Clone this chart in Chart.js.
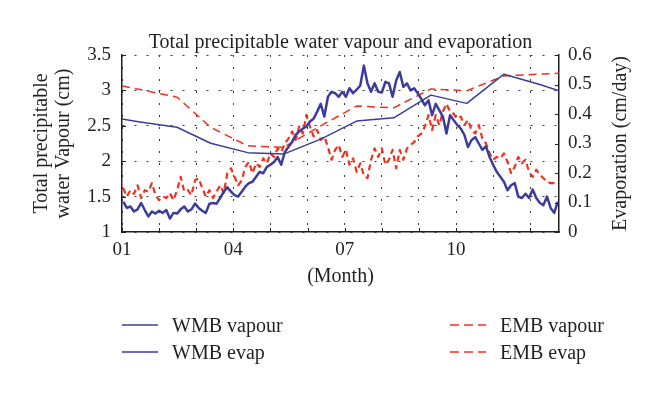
<!DOCTYPE html>
<html>
<head>
<meta charset="utf-8">
<script src="https://cdn.jsdelivr.net/npm/chart.js@4.4.1/dist/chart.umd.min.js"></script>
<style>
  body { margin: 0; background: #fff; }
  #wrap { position: relative; width: 660px; height: 395px; }
  #legend {
    position: absolute; left: 122px; top: 314px;
    display: grid; grid-template-columns: 328px 170px; row-gap: 5px;
    font: 20px "Liberation Serif", "DejaVu Serif", serif; color: #231f20;
  }
  .item { display: flex; align-items: center; height: 22px; white-space: nowrap; }
  .item canvas { margin-right: 14px; }
</style>
</head>
<body>
<div id="wrap">
  <canvas id="chart" width="660" height="395"></canvas>
  <div id="legend"></div>
</div>
<script>
// x axis is day of year, ticks every 31 days
const monthTickDays = [0, 31, 62, 93, 124, 155, 186, 217, 248, 279, 310, 341];
const monthTickLabels = ["01", "", "", "04", "", "", "07", "", "", "10", "", ""];

// daily vapour curves, read every 3rd day (day 1, 4, 7, ... 364)
const vapourDays = Array.from({ length: 122 }, (_, i) => 1 + 3 * i);

const wmbVapour = [
  1.43, 1.34, 1.36, 1.29, 1.32, 1.41, 1.31, 1.22, 1.29, 1.26, 1.30, 1.27, 1.31, 1.19, 1.27,
  1.26, 1.32, 1.36, 1.29, 1.32, 1.40, 1.34, 1.30, 1.27, 1.40, 1.41, 1.40, 1.48, 1.57, 1.63,
  1.57, 1.52, 1.50, 1.57, 1.64, 1.69, 1.71, 1.78, 1.85, 1.83, 1.92, 1.95, 1.99, 2.06, 1.95,
  2.13, 2.20, 2.27, 2.37, 2.42, 2.46, 2.49, 2.56, 2.60, 2.70, 2.81, 2.63, 2.91, 2.98, 2.96, 2.91,
  2.98, 2.91, 3.03, 2.96, 3.01, 3.07, 3.35, 3.10, 2.98, 3.10, 2.98, 2.97, 3.12, 3.10, 2.91,
  3.14, 3.26, 3.05, 3.10, 3.00, 3.03, 2.96, 2.88, 2.79, 2.86, 2.65, 2.81, 2.72, 2.63, 2.39, 2.65,
  2.58, 2.51, 2.46, 2.37, 2.20, 2.30, 2.34, 2.25, 2.16, 2.21, 2.06, 1.95, 1.85, 1.78, 1.71,
  1.59, 1.66, 1.69, 1.50, 1.48, 1.54, 1.48, 1.60, 1.48, 1.41, 1.38, 1.50, 1.34, 1.27, 1.43
];

const embVapour = [
  1.62, 1.50, 1.59, 1.54, 1.66, 1.48, 1.59, 1.57, 1.69, 1.52, 1.45, 1.50, 1.48, 1.55, 1.45,
  1.59, 1.78, 1.57, 1.59, 1.52, 1.73, 1.76, 1.62, 1.50, 1.59, 1.48, 1.57, 1.66, 1.55, 1.83,
  1.90, 1.78, 1.66, 1.73, 1.92, 1.99, 1.83, 1.97, 1.92, 2.04, 1.97, 2.11, 2.06, 2.18, 2.13,
  2.25, 2.32, 2.42, 2.30, 2.49, 2.39, 2.65, 2.49, 2.35, 2.44, 2.30, 2.35, 2.20, 2.02, 2.16, 2.23,
  2.06, 2.16, 1.95, 2.04, 1.85, 1.97, 1.80, 1.76, 2.02, 2.18, 2.06, 2.18, 1.95, 2.02, 2.16,
  1.90, 2.16, 2.02, 2.18, 2.23, 2.27, 2.35, 2.39, 2.49, 2.65, 2.44, 2.65, 2.51, 2.70, 2.81, 2.70,
  2.67, 2.60, 2.63, 2.51, 2.58, 2.44, 2.39, 2.51, 2.32, 2.25, 2.11, 2.02, 2.06, 2.04, 2.11,
  1.99, 1.83, 1.92, 2.06, 1.97, 2.02, 1.85, 1.78, 1.88, 1.81, 1.76, 1.71, 1.69, 1.69, 1.66
];

// monthly evaporation (cm/day), plotted at mid month plus the two ends
const evapDays = [0, 15, 46, 74, 105, 135, 166, 196, 227, 258, 288, 319, 349, 365];
const wmbEvap = [0.383, 0.373, 0.355, 0.301, 0.269, 0.264, 0.315, 0.376, 0.387, 0.464, 0.436, 0.535, 0.500, 0.479];
const embEvap = [0.495, 0.483, 0.457, 0.355, 0.292, 0.287, 0.360, 0.427, 0.421, 0.485, 0.479, 0.529, 0.535, 0.538];

const blue = "#3c3c9c";
const red = "#f2301e";
const ink = "#231f20";
const serif = "'Liberation Serif', 'DejaVu Serif', serif";

const toPoints = (days, values) => days.map((d, i) => ({ x: d, y: values[i] }));

// inward tick marks on the three axes
const innerTicks = {
  id: "innerTicks",
  afterDraw(chart) {
    const { ctx, chartArea, scales } = chart;
    ctx.save();
    ctx.strokeStyle = ink;
    ctx.lineWidth = 1;
    ctx.beginPath();
    scales.x.ticks.forEach((t) => {
      const px = Math.round(scales.x.getPixelForValue(t.value)) + 0.5;
      ctx.moveTo(px, chartArea.bottom);
      ctx.lineTo(px, chartArea.bottom - 4);
    });
    scales.y.ticks.forEach((t) => {
      const py = Math.round(scales.y.getPixelForValue(t.value)) + 0.5;
      ctx.moveTo(chartArea.left, py);
      ctx.lineTo(chartArea.left + 4, py);
    });
    scales.y1.ticks.forEach((t) => {
      const py = Math.round(scales.y1.getPixelForValue(t.value)) + 0.5;
      ctx.moveTo(chartArea.right, py);
      ctx.lineTo(chartArea.right - 4, py);
    });
    ctx.stroke();
    ctx.restore();
  },
};

// right axis title reads bottom to top, chart.js would turn it the other way
const rightTitle = {
  id: "rightTitle",
  afterDraw(chart) {
    const { ctx, chartArea } = chart;
    ctx.save();
    ctx.translate(621, (chartArea.top + chartArea.bottom) / 2);
    ctx.rotate(-Math.PI / 2);
    ctx.font = "20px " + serif;
    ctx.fillStyle = ink;
    ctx.textAlign = "center";
    ctx.textBaseline = "middle";
    ctx.fillText("Evaporation (cm/day)", 0, 0);
    ctx.restore();
  },
};

const dotted = { color: "#3a3a3a", lineWidth: 1 };

const chart = new Chart(document.getElementById("chart"), {
  type: "line",
  data: {
    datasets: [
      {
        label: "WMB vapour",
        data: toPoints(vapourDays, wmbVapour),
        yAxisID: "y",
        borderColor: blue,
        borderWidth: 2.5,
      },
      {
        label: "WMB evap",
        data: toPoints(evapDays, wmbEvap),
        yAxisID: "y1",
        borderColor: blue,
        borderWidth: 1.5,
      },
      {
        label: "EMB vapour",
        data: toPoints(vapourDays, embVapour),
        yAxisID: "y",
        borderColor: red,
        borderWidth: 2.2,
        borderDash: [6, 4],
      },
      {
        label: "EMB evap",
        data: toPoints(evapDays, embEvap),
        yAxisID: "y1",
        borderColor: red,
        borderWidth: 1.5,
        borderDash: [8, 5],
      },
    ],
  },
  options: {
    responsive: false,
    animation: false,
    events: [],
    elements: {
      point: { radius: 0 },
      line: { tension: 0, borderJoinStyle: "round" },
    },
    layout: { padding: 0 },
    plugins: {
      legend: { display: false },
      tooltip: { enabled: false },
      title: {
        display: true,
        text: "Total precipitable water vapour and evaporation",
        color: ink,
        fullSize: false,
        font: { family: serif, size: 20, weight: "normal", lineHeight: 1.2 },
        padding: { top: 31, bottom: 0 },
      },
    },
    scales: {
      x: {
        type: "linear",
        min: 0,
        max: 365,
        afterBuildTicks: (scale) => {
          scale.ticks = monthTickDays.map((v) => ({ value: v }));
        },
        afterFit: (scale) => {
          scale.height = 163;
        },
        ticks: {
          autoSkip: false,
          maxRotation: 0,
          padding: 7,
          color: ink,
          font: { family: serif, size: 19 },
          callback: (value, index) => monthTickLabels[index],
        },
        grid: { ...dotted, drawTicks: false },
        border: { color: ink, width: 1.5, dash: [2, 10] },
        title: {
          display: true,
          text: "(Month)",
          color: ink,
          font: { family: serif, size: 20, lineHeight: 1.2 },
          padding: { top: 0, bottom: 106 },
        },
      },
      y: {
        position: "left",
        min: 1,
        max: 3.5,
        afterFit: (scale) => {
          scale.width = 122;
        },
        ticks: {
          stepSize: 0.5,
          padding: 11,
          color: ink,
          font: { family: serif, size: 19 },
          callback: (value) => String(value),
        },
        grid: { ...dotted, drawTicks: false },
        border: { color: ink, width: 1.5, dash: [2, 10] },
        title: {
          display: true,
          text: ["Total precipitable", "water Vapour (cm)"],
          color: ink,
          font: { family: serif, size: 20, lineHeight: 1.1 },
          padding: { top: 31, bottom: 0 },
        },
      },
      y1: {
        position: "right",
        min: 0,
        max: 0.6,
        afterFit: (scale) => {
          scale.width = 101;
        },
        ticks: {
          stepSize: 0.1,
          padding: 9,
          color: ink,
          font: { family: serif, size: 19 },
          callback: (value) => String(Math.round(value * 10) / 10),
        },
        grid: { drawOnChartArea: false, drawTicks: false },
        border: { color: ink, width: 1.5 },
      },
    },
  },
  plugins: [innerTicks, rightTitle],
});

// two column legend under the plot, built from the datasets
const legendOrder = [0, 2, 1, 3];
const legendEl = document.getElementById("legend");
legendOrder.forEach((idx) => {
  const ds = chart.data.datasets[idx];
  const item = document.createElement("div");
  item.className = "item";
  const sample = document.createElement("canvas");
  sample.width = 36;
  sample.height = 10;
  const sctx = sample.getContext("2d");
  sctx.strokeStyle = ds.borderColor;
  sctx.lineWidth = 1.6;
  sctx.setLineDash(ds.borderDash ? [9, 5] : []);
  sctx.beginPath();
  sctx.moveTo(0, 5);
  sctx.lineTo(36, 5);
  sctx.stroke();
  item.appendChild(sample);
  const label = document.createElement("span");
  label.textContent = ds.label;
  item.appendChild(label);
  legendEl.appendChild(item);
});
</script>
</body>
</html>
